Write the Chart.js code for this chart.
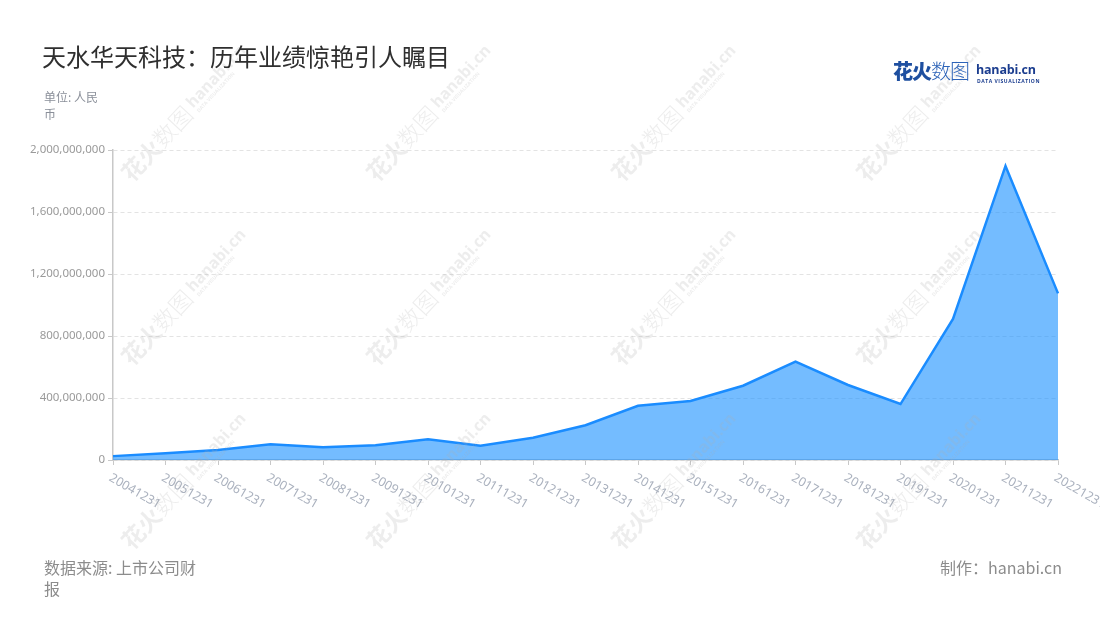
<!DOCTYPE html>
<html>
<head>
<meta charset="utf-8">
<script src="https://cdn.jsdelivr.net/npm/chart.js@4/dist/chart.umd.min.js"></script>
<style>
  html, body { margin: 0; padding: 0; background: #fff; }
  #wrap { position: relative; width: 1100px; height: 620px; overflow: hidden; font-family: "Noto Sans CJK SC", "Noto Sans", sans-serif; }
  #chart { position: absolute; left: 0; top: 0; }
  .title { position: absolute; left: 42px; top: 40px; font-size: 24px; line-height: 32px; color: #2f2f2f; }
  .unit { position: absolute; left: 44px; top: 88px; font-size: 12px; line-height: 17px; color: #8a8f99; }
  .source { position: absolute; left: 44px; top: 557px; font-size: 16px; line-height: 21px; color: #8c8c8c; }
  .credit { position: absolute; right: 38px; top: 557px; font-size: 16px; line-height: 21px; color: #8c8c8c; }
  .logo { position: absolute; left: 893px; top: 57px; height: 28px; white-space: nowrap; }
  .logo .cn { position: absolute; left: 0; top: 0; font-size: 20px; line-height: 28px; color: #1e4fa0; letter-spacing: -1px; }
  .logo .cn b { font-weight: 900; }
  .logo .cn span { font-weight: 300; color: #2c63b8; }
  .logo .en { position: absolute; left: 83px; top: 5px; font-family: "Open Sans", sans-serif; font-size: 12.5px; line-height: 16px; font-weight: 700; color: #1b3d8f; letter-spacing: -0.2px; }
  .logo .sub { position: absolute; left: 84px; top: 21px; font-family: "Open Sans", sans-serif; font-size: 5px; line-height: 6px; font-weight: 700; color: #1b3d8f; letter-spacing: 0.55px; }
</style>
</head>
<body>
<div id="wrap">
  <canvas id="chart" width="1100" height="620"></canvas>
  <div class="title">天水华天科技：历年业绩惊艳引人瞩目</div>
  <div class="unit">单位: 人民<br>币</div>
  <div class="logo">
    <div class="cn"><b>花火</b><span>数图</span></div>
    <div class="en">hanabi.cn</div>
    <div class="sub">DATA VISUALIZATION</div>
  </div>
  <div class="source">数据来源: 上市公司财<br>报</div>
  <div class="credit">制作：hanabi.cn</div>
</div>
<script>
// 数据
const dates = ['20041231', '20051231', '20061231', '20071231', '20081231', '20091231', '20101231',
  '20111231', '20121231', '20131231', '20141231', '20151231', '20161231', '20171231',
  '20181231', '20191231', '20201231', '20211231', '20221231'];
const profits = [25e6, 43e6, 65e6, 101e6, 82e6, 95e6, 134e6, 92e6, 144e6, 224e6,
  350e6, 381e6, 479e6, 634e6, 484e6, 361e6, 910e6, 1897e6, 1075e6];
const yTicks = [0, 400e6, 800e6, 1200e6, 1600e6, 2000e6];

// x 轴标签 (斜向下)
const xLabelPlugin = {
  id: 'xLabels',
  afterDraw(chart) {
    const xs = chart.scales.x;
    const ctx = chart.ctx;
    ctx.save();
    ctx.font = '12.5px "Noto Sans", sans-serif';
    ctx.fillStyle = '#aab1be';
    ctx.textAlign = 'left';
    ctx.textBaseline = 'middle';
    dates.forEach((d, i) => {
      const x = xs.getPixelForTick(i);
      ctx.save();
      ctx.translate(x - 3, xs.bottom + 12);
      ctx.rotate(Math.PI / 6);
      ctx.fillText(d, 0, 0);
      ctx.restore();
    });
    ctx.restore();
  }
};

// 水印
const watermarkPlugin = {
  id: 'watermark',
  afterDraw(chart) {
    const ctx = chart.ctx;
    const cols = [132, 377, 622, 867];
    const rows = [183, 367, 551];
    ctx.save();
    ctx.fillStyle = 'rgba(175,175,175,0.22)';
    rows.forEach(ry => {
      cols.forEach(cx => {
        ctx.save();
        ctx.translate(cx, ry);
        ctx.rotate(-47 * Math.PI / 180);
        ctx.textBaseline = 'alphabetic';
        ctx.font = 'bold 23px "Noto Sans CJK SC", sans-serif';
        ctx.fillText('花火', 0, 0);
        ctx.font = '300 23px "Noto Sans CJK SC", sans-serif';
        ctx.fillText('数图', 46, 0);
        ctx.font = 'bold 16px "Open Sans", sans-serif';
        ctx.fillText('hanabi.cn', 96, -6);
        ctx.font = 'bold 5px "Open Sans", sans-serif';
        ctx.fillText('DATA VISUALIZATION', 97, 1);
        ctx.restore();
      });
    });
    ctx.restore();
  }
};

new Chart(document.getElementById('chart'), {
  type: 'line',
  data: {
    labels: dates,
    datasets: [{
      data: profits,
      borderColor: '#1a8cff',
      borderWidth: 2.5,
      backgroundColor: 'rgba(24,144,255,0.6)',
      fill: 'origin',
      tension: 0,
      pointRadius: 0,
      clip: false
    }]
  },
  options: {
    responsive: false,
    animation: false,
    layout: { padding: { top: 150, left: 0, right: 42, bottom: 155 } },
    plugins: { legend: { display: false }, tooltip: { enabled: false } },
    scales: {
      x: {
        offset: false,
        afterFit: s => { s.height = 5; },
        grid: { drawOnChartArea: false, drawTicks: true, tickLength: 5, tickColor: '#c8c8c8' },
        border: { color: '#c8c8c8', width: 1.5 },
        ticks: { display: false }
      },
      y: {
        min: 0,
        max: 2000e6,
        afterFit: s => { s.width = 113; },
        afterBuildTicks: s => { s.ticks = yTicks.map(v => ({ value: v })); },
        grid: { color: '#e3e3e3', drawTicks: true, tickLength: 5, tickColor: '#c8c8c8' },
        border: { color: '#c8c8c8', width: 1.5, dash: [4, 3] },
        ticks: {
          padding: 3,
          color: '#9a9a9a',
          font: { size: 11.5, family: '"Noto Sans", sans-serif' },
          callback: v => v.toLocaleString('en-US')
        }
      }
    }
  },
  plugins: [xLabelPlugin, watermarkPlugin]
});
</script>
</body>
</html>
